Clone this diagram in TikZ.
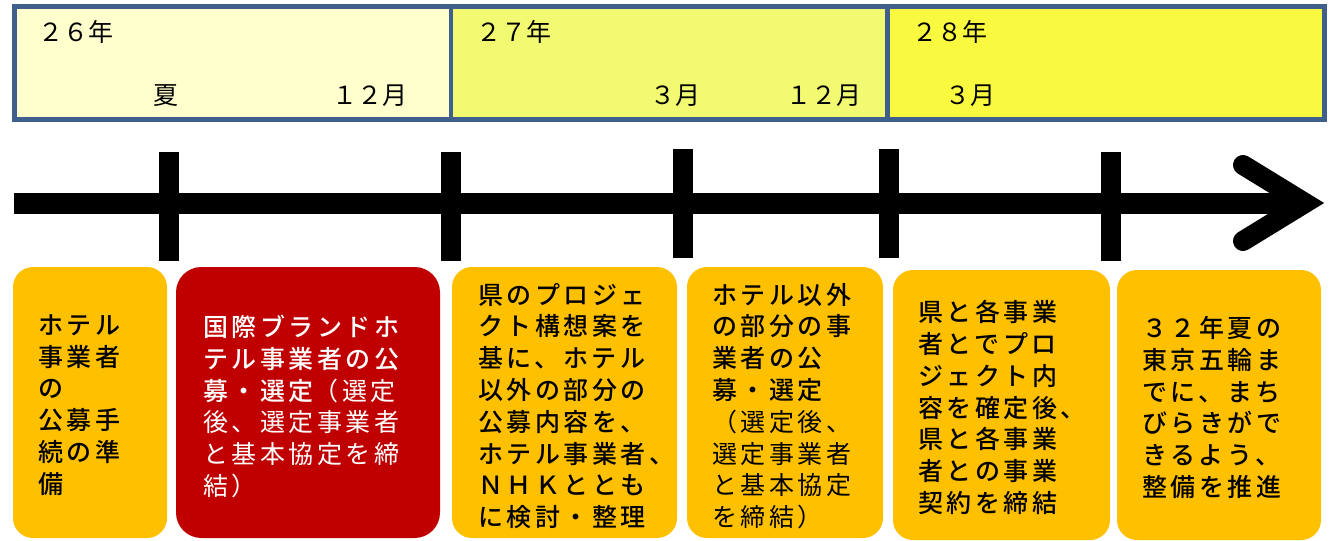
\documentclass[tikz,border=0pt]{standalone}
\usepackage{fontspec}
\setmainfont{Noto Sans CJK JP}
\newfontfamily\boxfont{Noto Sans CJK JP}[LetterSpace=14,BoldFont={Noto Sans CJK JP Medium}]
\definecolor{frameblue}{RGB}{63,95,140}
\definecolor{pA}{RGB}{255,255,206}
\definecolor{pB}{RGB}{241,250,112}
\definecolor{pC}{RGB}{249,250,64}
\definecolor{boxorange}{RGB}{255,192,0}
\definecolor{boxred}{RGB}{192,0,0}
\begin{document}
\begin{tikzpicture}[x=0.75pt,y=-0.75pt,
  panel/.style={draw=frameblue,line width=3.6pt},
  ptxt/.style={anchor=west,inner sep=0pt,font=\fontsize{18.75pt}{22pt}\selectfont},
  obox/.style={fill=boxorange,rounded corners=15pt,inner sep=0pt},
  rbox/.style={fill=boxred,rounded corners=19pt,inner sep=0pt},
  btxt/.style={anchor=west,inner sep=0pt,align=left,font=\boxfont\fontsize{18.75pt}{23.85pt}\selectfont},
  tick/.style={fill=black}]
\useasboundingbox (0,0) rectangle (1332,540);
% top panels
\draw[panel,fill=pA] (14.5,6.5) rectangle (451,119.5);
\draw[panel,fill=pB] (451,6.5) rectangle (887.5,119.5);
\draw[panel,fill=pC] (887.5,6.5) rectangle (1324.5,119.5);
\node[ptxt] (y26) at (38,32) {２６年};
\node[ptxt] (summer) at (153,96) {夏};
\node[ptxt] (dec26) at (332,96) {１２月};
\node[ptxt] (y27) at (476,32) {２７年};
\node[ptxt] (mar27) at (650,96) {３月};
\node[ptxt] (dec27) at (786,96) {１２月};
\node[ptxt] (y28) at (912,32) {２８年};
\node[ptxt] (mar28) at (945,96) {３月};
% timeline
\fill (14,193) rectangle (1300,214);
\fill[tick] (158.5,152) rectangle (178.5,261);
\fill[tick] (440.5,152) rectangle (460.5,261);
\fill[tick] (673,149) rectangle (693,258);
\fill[tick] (879,149) rectangle (899,258);
\fill[tick] (1101,152) rectangle (1121,261);
\draw[line width=15pt,line cap=round,miter limit=10] (1243,165) -- (1305,203) -- (1243,241);
% boxes
\node[obox,minimum width=154*0.75pt,minimum height=271*0.75pt] (b1) at (90,402.5) {};
\node[rbox,minimum width=264*0.75pt,minimum height=271*0.75pt] (b2) at (308,402.5) {};
\node[obox,minimum width=225*0.75pt,minimum height=271*0.75pt] (b3) at (564.5,402.5) {};
\node[obox,minimum width=196*0.75pt,minimum height=271*0.75pt] (b4) at (785,402.5) {};
\node[obox,minimum width=217*0.75pt,minimum height=270*0.75pt] (b5) at (1001.5,405) {};
\node[obox,minimum width=204*0.75pt,minimum height=270*0.75pt] (b6) at (1219,405) {};
\node[btxt] (t1) at (38,405) {\bfseries ホテル\\\bfseries 事業者\\\bfseries の\\\bfseries 公募手\\\bfseries 続の準\\\bfseries 備};
\node[btxt,text=white] (t2) at (203,406.5) {{\bfseries 国際ブランドホ}\\{\bfseries テル事業者の公}\\{\bfseries 募・選定}（選定\\後、選定事業者\\と基本協定を締\\結）};
\node[btxt] (t3) at (478,406) {\bfseries 県のプロジェ\\\bfseries クト構想案を\\\bfseries 基に、ホテル\\\bfseries 以外の部分の\\\bfseries 公募内容を、\\\bfseries ホテル事業者、\\\bfseries ＮＨＫととも\\\bfseries に検討・整理};
\node[btxt] (t4) at (712,406) {{\bfseries ホテル以外}\\{\bfseries の部分の事}\\{\bfseries 業者の公}\\{\bfseries 募・選定}\\（選定後、\\選定事業者\\と基本協定\\を締結）};
\node[btxt] (t5) at (918,407.5) {\bfseries 県と各事業\\\bfseries 者とでプロ\\\bfseries ジェクト内\\\bfseries 容を確定後、\\\bfseries 県と各事業\\\bfseries 者との事業\\\bfseries 契約を締結};
\node[btxt] (t6) at (1142,407.5) {\bfseries ３２年夏の\\\bfseries 東京五輪ま\\\bfseries でに、まち\\\bfseries びらきがで\\\bfseries きるよう、\\\bfseries 整備を推進};
\end{tikzpicture}
\end{document}
